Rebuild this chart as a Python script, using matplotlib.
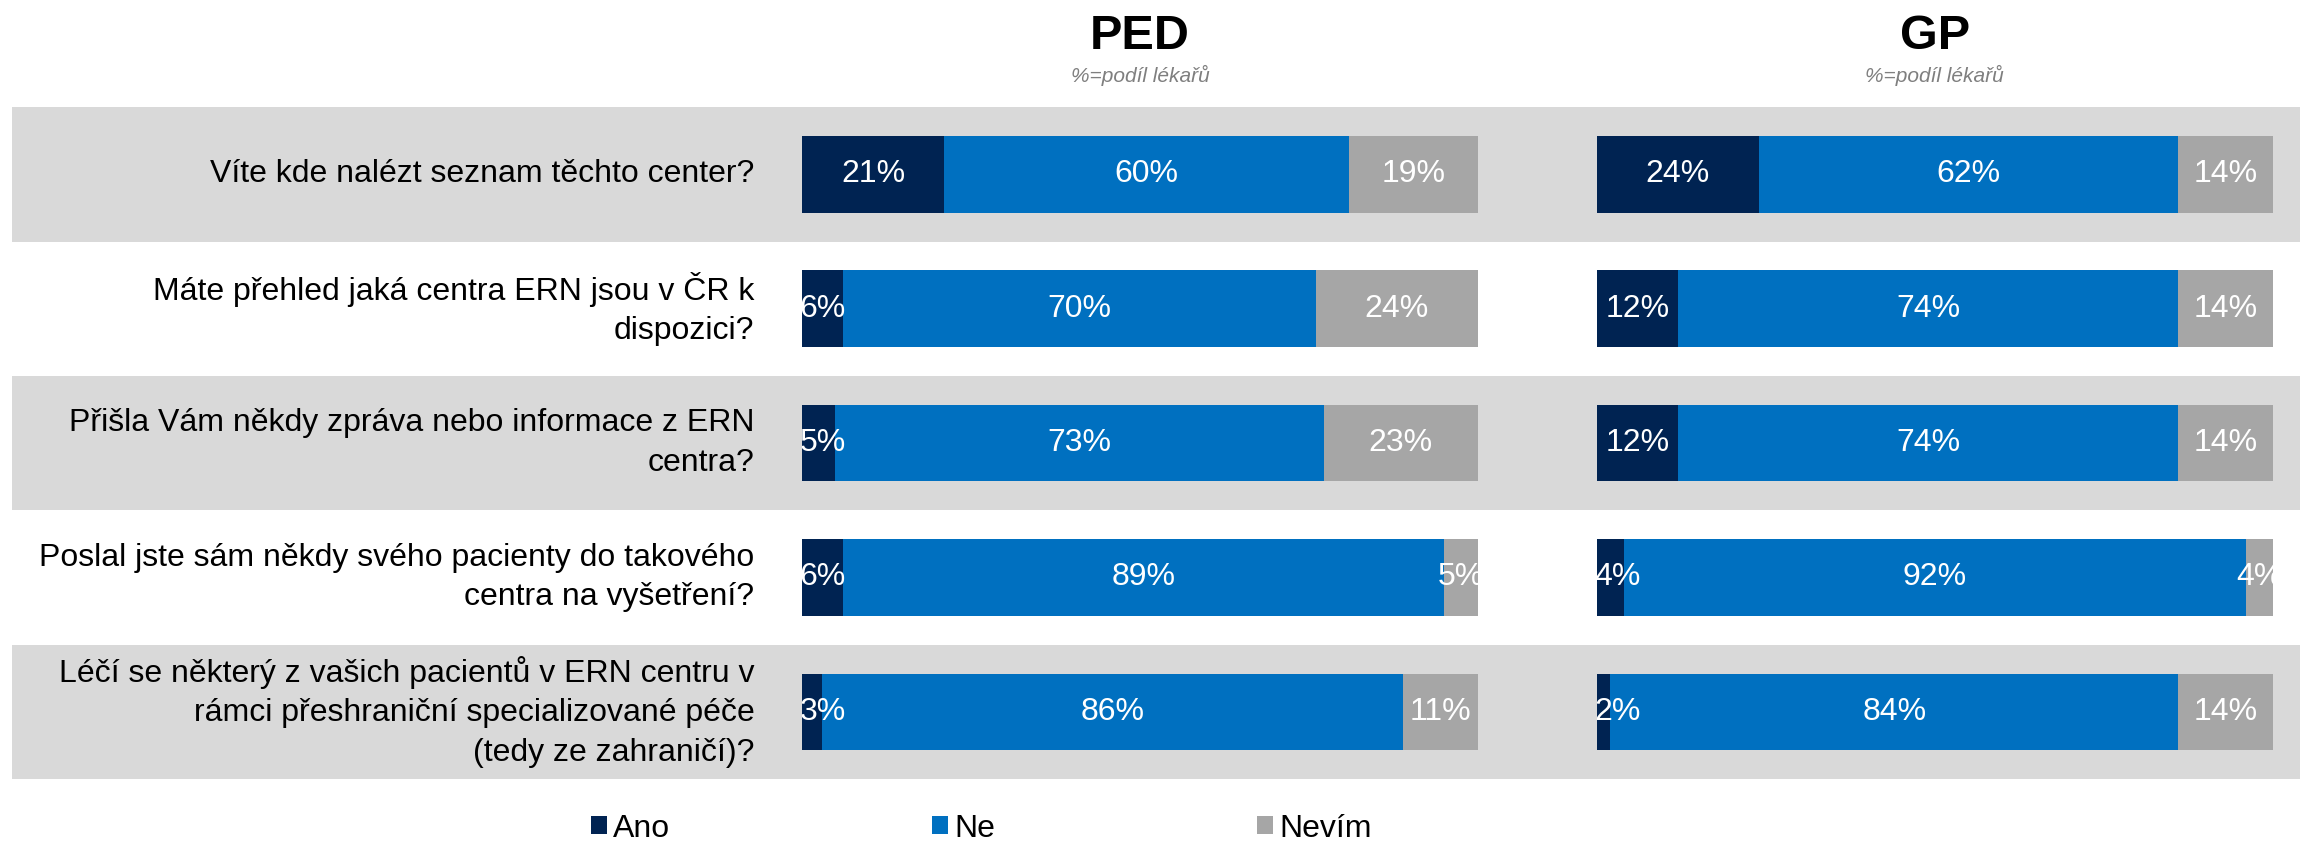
import numpy as np
import matplotlib.pyplot as plt
from matplotlib.patches import Patch

plt.rcParams['font.family'] = ['Liberation Sans', 'DejaVu Sans']

questions = [
    'Víte kde nalézt seznam těchto center?',
    'Máte přehled jaká centra ERN jsou v ČR k\ndispozici?',
    'Přišla Vám někdy zpráva nebo informace z ERN\ncentra?',
    'Poslal jste sám někdy svého pacienty do takového\ncentra na vyšetření?',
    'Léčí se některý z vašich pacientů v ERN centru v\nrámci přeshraniční specializované péče\n(tedy ze zahraničí)?',
]
answers = ['Ano', 'Ne', 'Nevím']
colors = ['#002352', '#0070C0', '#A6A6A6']

# PED
ped_ano = [21, 6, 5, 6, 3]
ped_ne = [60, 70, 73, 89, 86]
ped_nevim = [19, 24, 23, 5, 11]
# GP
gp_ano = [24, 12, 12, 4, 2]
gp_ne = [62, 74, 74, 92, 84]
gp_nevim = [14, 14, 14, 4, 14]

panels = [
    ('PED', [ped_ano, ped_ne, ped_nevim], 0.3487),
    ('GP', [gp_ano, gp_ne, gp_nevim], 0.6943),
]

fig = plt.figure(figsize=(23, 8.43), dpi=100)
renderer = fig.canvas.get_renderer()

ax_bottom = 0.0759
ax_height = 0.797
n = len(questions)
y = np.arange(n)

# background bands
bg = fig.add_axes([0.005, ax_bottom, 0.995, ax_height])
bg.set_xlim(0, 1)
bg.set_ylim(n - 0.5, -0.5)
bg.axis('off')
for i in range(0, n, 2):
    bg.axhspan(i - 0.5, i + 0.5, color='#D9D9D9', lw=0)
for i, q in enumerate(questions):
    bg.text(0.3247, i, q, ha='right', va='center', multialignment='right',
            fontsize=23, color='black', linespacing=1.4)

for title, series, left in panels:
    ax = fig.add_axes([left, ax_bottom, 0.2938, ax_height])
    ax.patch.set_alpha(0)
    ax.set_xlim(0, 100)
    ax.set_ylim(n - 0.5, -0.5)
    ax.axis('off')
    vals = np.array(series, dtype=float)
    shares = vals / vals.sum(axis=0) * 100
    lefts = np.zeros(n)
    ax_x0 = ax.get_window_extent(renderer).x0
    for k in range(len(answers)):
        ax.barh(y, shares[k], left=lefts, height=0.57, color=colors[k], lw=0)
        for i in range(n):
            t = ax.text(lefts[i] + shares[k][i] / 2, y[i], f'{int(vals[k][i])}%',
                        ha='center', va='center', color='white', fontsize=23,
                        clip_on=True)
            # narrow first segment: label pushed to the bar's left edge
            if t.get_window_extent(renderer).x0 < ax_x0:
                t.set_x(-0.4)
                t.set_ha('left')
        lefts += shares[k]
    cx = left + 0.2938 / 2
    fig.text(cx, 0.957, title, ha='center', va='center', fontsize=35,
             fontweight='bold')
    fig.text(cx, 0.910, '%=podíl lékařů', ha='center', va='center',
             fontsize=15, style='italic', color='#7F7F7F')

handles = [Patch(facecolor=c, edgecolor='none') for c in colors]
fig.legend(handles, answers, loc='center', bbox_to_anchor=(0.4267, 0.017),
           ncol=3, frameon=False, fontsize=23, handlelength=0.5,
           handleheight=0.5, handletextpad=0.2, columnspacing=8.2,
           borderpad=0.2)

fig.savefig('out.png', dpi=100)
